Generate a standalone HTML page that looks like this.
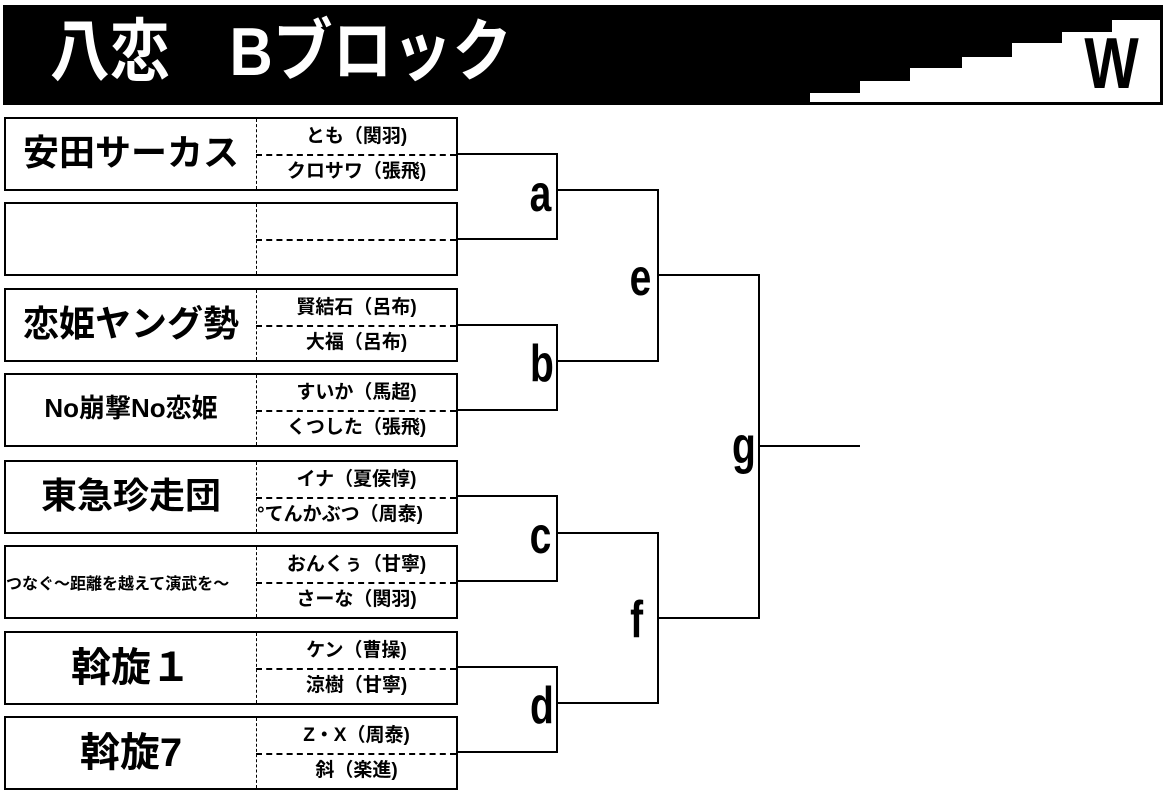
<!DOCTYPE html>
<html><head><meta charset="utf-8"><style>
body{margin:0;width:1170px;height:800px;background:#fff;position:relative;overflow:hidden;font-family:"Liberation Sans","Noto Sans CJK JP",sans-serif}
.a{position:absolute}
.box{position:absolute;left:4px;width:450px;height:70px;border:2px solid #000;box-sizing:content-box}
.dv{position:absolute;left:250px;top:0;height:70px;border-left:1.5px dashed #000}
.dh{position:absolute;left:250px;top:35px;width:200px;border-top:2px dashed #000}
.tn{position:absolute;left:0;width:250px;top:-4px;height:70px;display:flex;align-items:center;justify-content:center;font-weight:bold;color:#000;white-space:nowrap}
.p{position:absolute;left:251px;width:199px;height:35px;display:flex;align-items:center;justify-content:center;font-weight:bold;font-size:19px;white-space:nowrap;overflow:hidden}
.ln{position:absolute;background:#000}
.lt{position:absolute;font-family:"Liberation Sans Narrow","Liberation Sans",sans-serif;font-weight:bold;font-size:52px;transform:scaleX(0.75);transform-origin:center;line-height:1}
</style></head><body>
<svg class="a" style="left:0;top:0" width="1170" height="110">
<rect x="3" y="5" width="1160" height="100" fill="#000"/>
<polygon fill="#fff" points="810,102 810,93 860,93 860,81 910,81 910,68 962,68 962,57 1012,57 1012,43 1062,43 1062,32 1112,32 1112,20 1160,20 1160,102"/>
</svg>
<div class="a" style="left:50px;top:10px;color:#fff;font-weight:bold;font-size:68px;line-height:84px;transform:scaleX(0.88);transform-origin:left;white-space:nowrap">八恋　Bブロック</div>
<div class="a" style="left:1078px;top:28px;width:64px;font-family:'Liberation Sans Narrow','Liberation Sans',sans-serif;font-weight:bold;font-size:72px;line-height:72px;text-align:center;transform:scaleX(0.8)">W</div>

<div class="box" style="top:117px"><div class="dv"></div><div class="dh"></div><div class="tn" style="font-size:36px">安田サーカス</div><div class="p" style="top:-2px">とも（関羽)</div><div class="p" style="top:33px">クロサワ（張飛)</div></div>
<div class="box" style="top:202px"><div class="dv"></div><div class="dh"></div></div>
<div class="box" style="top:288px"><div class="dv"></div><div class="dh"></div><div class="tn" style="font-size:36px">恋姫ヤング勢</div><div class="p" style="top:-2px">賢結石（呂布)</div><div class="p" style="top:33px">大福（呂布)</div></div>
<div class="box" style="top:373px"><div class="dv"></div><div class="dh"></div><div class="tn" style="font-size:26px">No崩撃No恋姫</div><div class="p" style="top:-2px">すいか（馬超)</div><div class="p" style="top:33px">くつした（張飛)</div></div>
<div class="box" style="top:460px"><div class="dv"></div><div class="dh"></div><div class="tn" style="font-size:36px">東急珍走団</div><div class="p" style="top:-2px">イナ（夏侯惇)</div><div class="p" style="top:33px;justify-content:flex-start">°てんかぶつ（周泰)</div></div>
<div class="box" style="top:545px"><div class="dv"></div><div class="dh"></div><div class="tn" style="font-size:16px;justify-content:flex-start;overflow:hidden;top:0">つなぐ～距離を越えて演武を～</div><div class="p" style="top:-2px">おんくぅ（甘寧)</div><div class="p" style="top:33px">さーな（関羽)</div></div>
<div class="box" style="top:631px"><div class="dv"></div><div class="dh"></div><div class="tn" style="font-size:40px">斡旋１</div><div class="p" style="top:-2px">ケン（曹操)</div><div class="p" style="top:33px">涼樹（甘寧)</div></div>
<div class="box" style="top:716px"><div class="dv"></div><div class="dh"></div><div class="tn" style="font-size:40px">斡旋7</div><div class="p" style="top:-2px">Z・X（周泰)</div><div class="p" style="top:33px">斜（楽進)</div></div>

<div class="ln" style="left:456px;top:153px;width:102px;height:2px"></div>
<div class="ln" style="left:456px;top:238px;width:102px;height:2px"></div>
<div class="ln" style="left:556px;top:153px;width:2px;height:87px"></div>
<div class="ln" style="left:556px;top:189px;width:103px;height:2px"></div>
<div class="ln" style="left:456px;top:324px;width:102px;height:2px"></div>
<div class="ln" style="left:456px;top:409px;width:102px;height:2px"></div>
<div class="ln" style="left:556px;top:324px;width:2px;height:87px"></div>
<div class="ln" style="left:556px;top:360px;width:103px;height:2px"></div>
<div class="ln" style="left:456px;top:495px;width:102px;height:2px"></div>
<div class="ln" style="left:456px;top:580px;width:102px;height:2px"></div>
<div class="ln" style="left:556px;top:495px;width:2px;height:87px"></div>
<div class="ln" style="left:556px;top:532px;width:103px;height:2px"></div>
<div class="ln" style="left:456px;top:666px;width:102px;height:2px"></div>
<div class="ln" style="left:456px;top:751px;width:102px;height:2px"></div>
<div class="ln" style="left:556px;top:666px;width:2px;height:87px"></div>
<div class="ln" style="left:556px;top:702px;width:103px;height:2px"></div>
<div class="ln" style="left:657px;top:189px;width:2px;height:173px"></div>
<div class="ln" style="left:657px;top:274px;width:103px;height:2px"></div>
<div class="ln" style="left:657px;top:532px;width:2px;height:172px"></div>
<div class="ln" style="left:657px;top:617px;width:103px;height:2px"></div>
<div class="ln" style="left:758px;top:274px;width:2px;height:345px"></div>
<div class="ln" style="left:758px;top:445px;width:102px;height:2px"></div>

<div class="lt" style="left:526px;top:168px">a</div>
<div class="lt" style="left:526px;top:338px">b</div>
<div class="lt" style="left:526px;top:510px">c</div>
<div class="lt" style="left:526px;top:680px">d</div>
<div class="lt" style="left:626px;top:252px">e</div>
<div class="lt" style="left:628px;top:594px">f</div>
<div class="lt" style="left:728px;top:420px">g</div>
</body></html>
